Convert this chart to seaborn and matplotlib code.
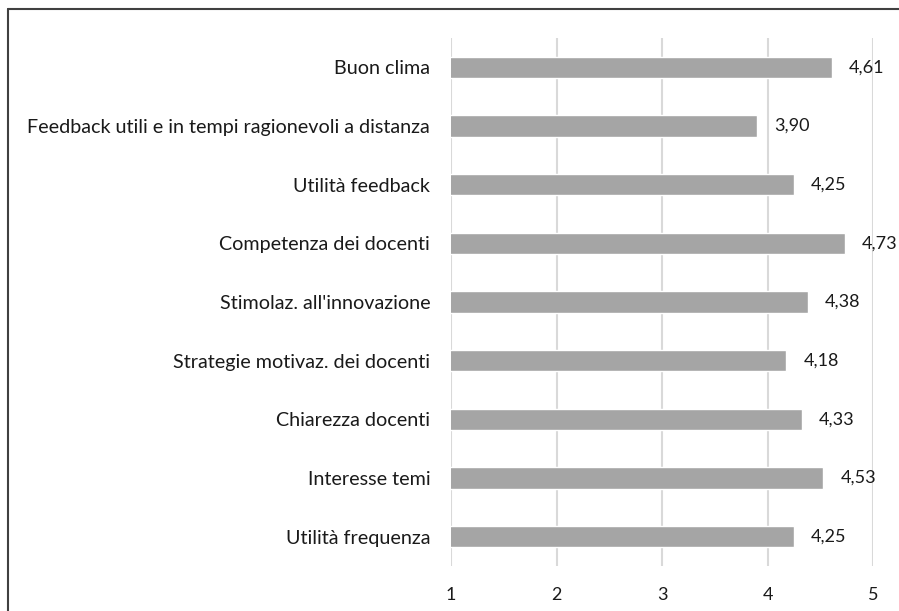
import matplotlib
matplotlib.use("Agg")
import matplotlib.pyplot as plt
from matplotlib.lines import Line2D
import seaborn as sns
import pandas as pd

categories = [
    "Buon clima",
    "Feedback utili e in tempi ragionevoli a distanza",
    "Utilità feedback",
    "Competenza dei docenti",
    "Stimolaz. all'innovazione",
    "Strategie motivaz. dei docenti",
    "Chiarezza docenti",
    "Interesse temi",
    "Utilità frequenza",
]
scores = [4.61, 3.90, 4.25, 4.73, 4.38, 4.18, 4.33, 4.53, 4.25]
x_ticks = [1, 2, 3, 4, 5]

df = pd.DataFrame({"voce": categories, "media": scores})

sns.set_theme(style="white")
plt.rcParams["font.family"] = ["Lato", "DejaVu Sans"]

W, H = 899, 611
fig = plt.figure(figsize=(W / 100, H / 100), dpi=100)
ax = fig.add_axes([451 / W, 1 - 566 / H, (873 - 451) / W, (566 - 38) / H])

sns.barplot(data=df, x="media", y="voce", orient="h", color="#A5A5A5",
            width=0.36, saturation=1, ax=ax, zorder=3)

ax.set_xlim(1, 5)
ax.set_xticks(x_ticks)
ax.set_xticklabels([str(t) for t in x_ticks])
ax.xaxis.grid(True, color="#D9D9D9", linewidth=1.5, zorder=0)
ax.yaxis.grid(False)
for s in ax.spines.values():
    s.set_visible(False)
ax.set_xlabel("")
ax.set_ylabel("")
txt = "#1a1a1a"
ax.tick_params(axis="x", length=0, pad=15, labelsize=13, labelcolor=txt)
ax.tick_params(axis="y", length=0, pad=15, labelsize=14.2, labelcolor=txt)

for i, v in enumerate(scores):
    ax.text(v + 0.16, i, f"{v:.2f}".replace(".", ","), va="center", ha="left",
            fontsize=13, color=txt)

# chart frame: top and left edges
fig.add_artist(Line2D([8 / W, 1], [1 - 9 / H, 1 - 9 / H], transform=fig.transFigure,
                      color="#404040", linewidth=1.5))
fig.add_artist(Line2D([8 / W, 8 / W], [0, 1 - 9 / H], transform=fig.transFigure,
                      color="#404040", linewidth=1.5))

fig.savefig("out.png", dpi=100, facecolor="white")
